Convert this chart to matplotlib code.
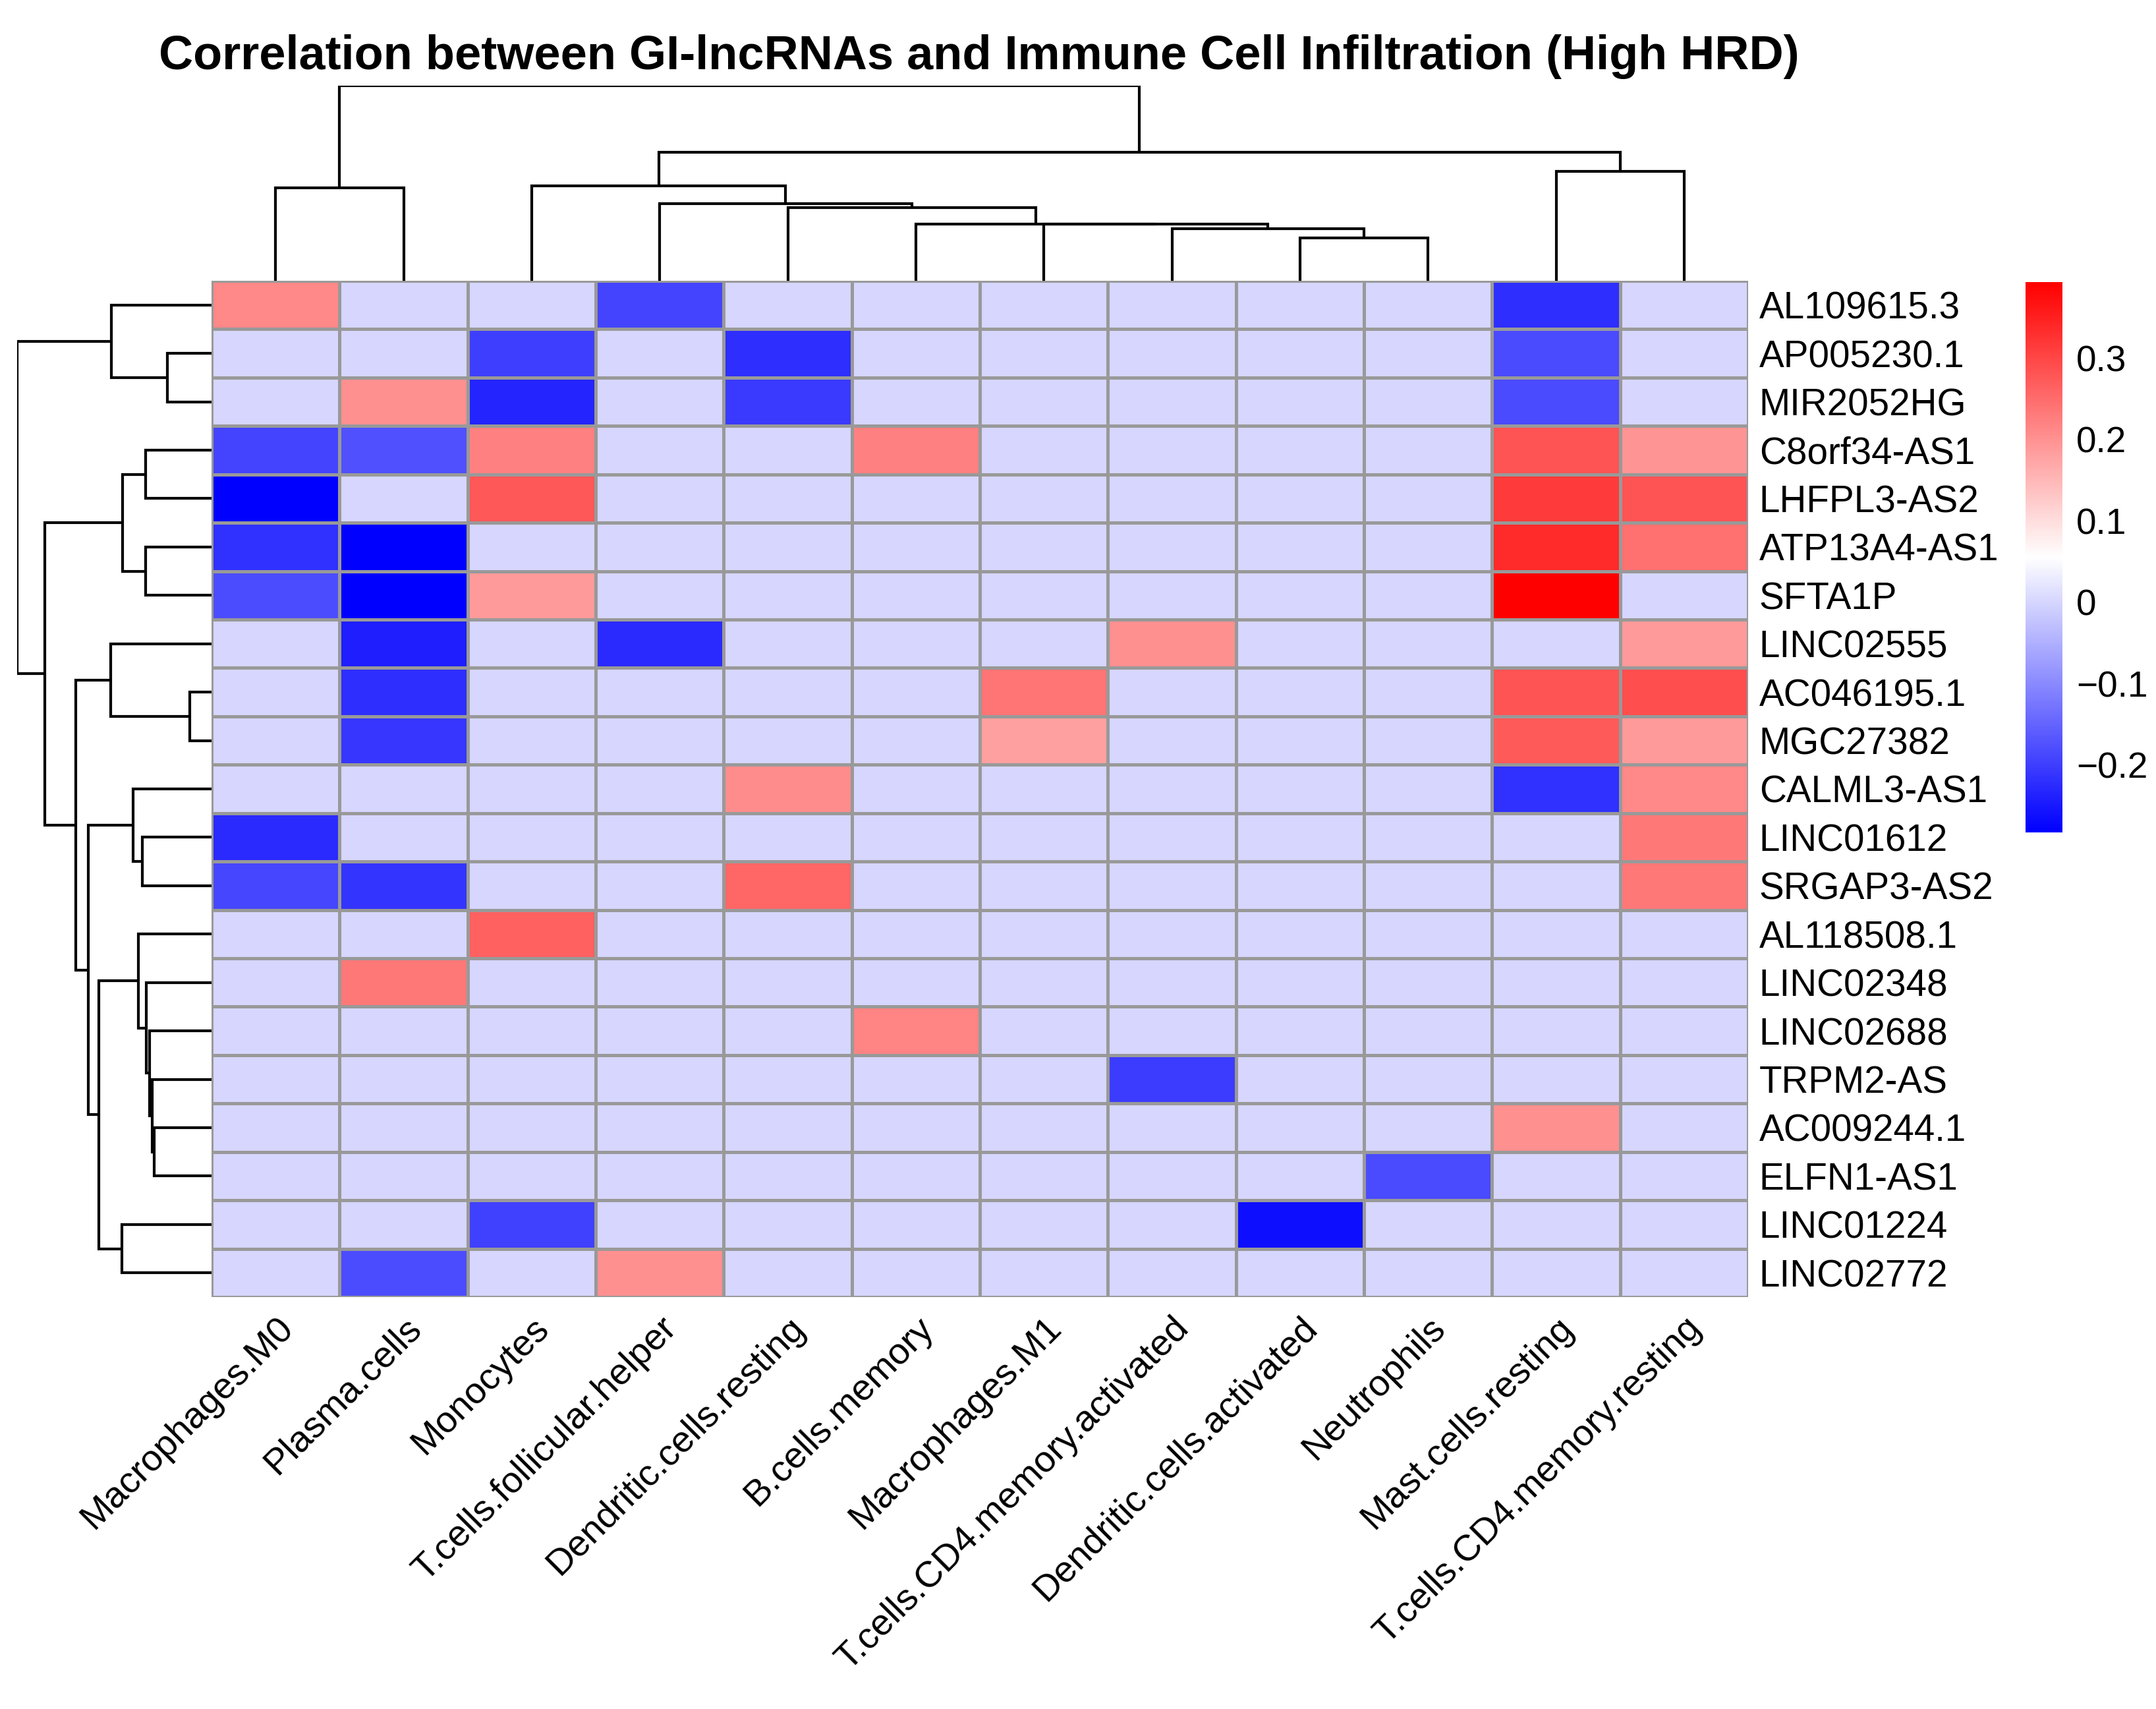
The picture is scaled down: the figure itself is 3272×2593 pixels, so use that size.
import numpy as np
import matplotlib
matplotlib.use("Agg")
import matplotlib.pyplot as plt
from matplotlib.colors import LinearSegmentedColormap, Normalize
from matplotlib.cm import ScalarMappable

plt.rcParams['font.family'] = ['Liberation Sans', 'DejaVu Sans']

# ---------------- data ----------------
cells = ["Macrophages.M0", "Plasma.cells", "Monocytes", "T.cells.follicular.helper",
         "Dendritic.cells.resting", "B.cells.memory", "Macrophages.M1",
         "T.cells.CD4.memory.activated", "Dendritic.cells.activated", "Neutrophils",
         "Mast.cells.resting", "T.cells.CD4.memory.resting"]

genes = ["AL109615.3", "AP005230.1", "MIR2052HG", "C8orf34-AS1", "LHFPL3-AS2",
         "ATP13A4-AS1", "SFTA1P", "LINC02555", "AC046195.1", "MGC27382",
         "CALML3-AS1", "LINC01612", "SRGAP3-AS2", "AL118508.1", "LINC02348",
         "LINC02688", "TRPM2-AS", "AC009244.1", "ELFN1-AS1", "LINC01224", "LINC02772"]

corr = [
    [0.213, 0, 0, -0.193, 0, 0, 0, 0, 0, 0, -0.222, 0],
    [0, 0, -0.200, 0, -0.222, 0, 0, 0, 0, 0, -0.185, 0],
    [0, 0.202, -0.235, 0, -0.205, 0, 0, 0, 0, 0, -0.185, 0],
    [-0.193, -0.177, 0.224, 0, 0, 0.224, 0, 0, 0, 0, 0.281, 0.197],
    [-0.283, 0, 0.275, 0, 0, 0, 0, 0, 0, 0, 0.316, 0.281],
    [-0.219, -0.283, 0, 0, 0, 0, 0, 0, 0, 0, 0.336, 0.245],
    [-0.182, -0.283, 0.190, 0, 0, 0, 0, 0, 0, 0, 0.3935, 0],
    [0, -0.243, 0, -0.225, 0, 0, 0, 0.202, 0, 0, 0, 0.190],
    [0, -0.222, 0, 0, 0, 0, 0.238, 0, 0, 0, 0.281, 0.288],
    [0, -0.211, 0, 0, 0, 0, 0.181, 0, 0, 0, 0.272, 0.190],
    [0, 0, 0, 0, 0.208, 0, 0, 0, 0, 0, -0.219, 0.213],
    [-0.225, 0, 0, 0, 0, 0, 0, 0, 0, 0, 0, 0.233],
    [-0.188, -0.214, 0, 0, 0.258, 0, 0, 0, 0, 0, 0, 0.233],
    [0, 0, 0.266, 0, 0, 0, 0, 0, 0, 0, 0, 0],
    [0, 0.233, 0, 0, 0, 0, 0, 0, 0, 0, 0, 0],
    [0, 0, 0, 0, 0, 0.217, 0, 0, 0, 0, 0, 0],
    [0, 0, 0, 0, 0, 0, 0, -0.203, 0, 0, 0, 0],
    [0, 0, 0, 0, 0, 0, 0, 0, 0, 0, 0.202, 0],
    [0, 0, 0, 0, 0, 0, 0, 0, 0, -0.185, 0, 0],
    [0, 0, -0.198, 0, 0, 0, 0, 0, -0.262, 0, 0, 0],
    [0, -0.182, 0, 0.202, 0, 0, 0, 0, 0, 0, 0, 0],
]

# dendrogram merges: (child_a, child_b, height); ids >= n refer to earlier merges
col_merges = [
    (8, 9, 31.0), (7, 12, 38.0), (6, 13, 41.0), (5, 14, 41.4), (4, 15, 53.0),
    (3, 16, 56.0), (2, 17, 69.0), (0, 1, 67.4), (10, 11, 79.4), (18, 20, 93.3),
    (19, 21, 141.7),
]
row_merges = [
    (1, 2, 200), (0, 21, 455), (3, 4, 300), (5, 6, 300), (23, 24, 403),
    (8, 9, 98), (7, 26, 458), (11, 12, 315), (10, 28, 357), (17, 18, 260),
    (16, 30, 270), (15, 31, 280), (14, 32, 297), (13, 33, 333), (19, 20, 407),
    (34, 35, 510), (29, 36, 560), (27, 37, 617), (25, 38, 755), (22, 39, 882),
]

cbar_ticks = [-0.2, -0.1, 0, 0.1, 0.2, 0.3]
cbar_labels = ["\u22120.2", "\u22120.1", "0", "0.1", "0.2", "0.3"]

title = "Correlation between GI-lncRNAs and Immune Cell Infiltration (High HRD)"

# ---------------- figure ----------------
W, H = 3272, 2593
DPI = 300
fig = plt.figure(figsize=(W / DPI, H / DPI), dpi=DPI)


def fx(px):
    return px / W


def fy(py):
    return 1 - py / H


hm_l, hm_r, hm_t, hm_b = 321, 2653, 426, 1968
ax = fig.add_axes([fx(hm_l), fy(hm_b), fx(hm_r - hm_l), (hm_b - hm_t) / H])

data = np.array(corr, dtype=float)
cmap = LinearSegmentedColormap.from_list("bwr_ph", ["blue", "white", "red"], N=256)
norm = Normalize(vmin=data.min(), vmax=data.max())
ax.pcolormesh(np.arange(len(cells) + 1), np.arange(len(genes) + 1), data,
              cmap=cmap, norm=norm, edgecolors="#999999", linewidth=0.8)
ax.set_xlim(0, len(cells))
ax.set_ylim(len(genes), 0)
for s in ax.spines.values():
    s.set_visible(False)
ax.set_yticks(np.arange(len(genes)) + 0.5)
ax.set_yticklabels(genes, fontsize=13.6)
ax.yaxis.tick_right()
ax.set_xticks(np.arange(len(cells)) + 0.5)
ax.set_xticklabels(cells, fontsize=13.4, rotation=45, ha="right", va="top",
                   rotation_mode="anchor")
ax.tick_params(axis="both", length=0)
ax.tick_params(axis="y", pad=4)
ax.tick_params(axis="x", pad=5)


def dendro_segments(merges, n):
    pos = {i: i + 0.5 for i in range(n)}
    hgt = {i: 0.0 for i in range(n)}
    segs = []
    for k, (a, b, h) in enumerate(merges):
        pa, pb = pos[a], pos[b]
        segs.append(([pa, pa, pb, pb], [hgt[a], h, h, hgt[b]]))
        pos[n + k] = (pa + pb) / 2.0
        hgt[n + k] = h
    return segs, max(h for _, _, h in merges)


# column dendrogram
col_top = 130
axc = fig.add_axes([fx(hm_l), fy(hm_t), fx(hm_r - hm_l), (hm_t - col_top) / H])
segs, cmax = dendro_segments(col_merges, len(cells))
for xs, ys in segs:
    axc.plot(xs, ys, color="black", lw=1.0, solid_capstyle="butt",
             solid_joinstyle="miter")
axc.set_xlim(0, len(cells))
axc.set_ylim(0, cmax)
axc.axis("off")

# row dendrogram
row_left = 26
axr = fig.add_axes([fx(row_left), fy(hm_b), fx(hm_l - row_left), (hm_b - hm_t) / H])
segs, rmax = dendro_segments(row_merges, len(genes))
for ys, xs in segs:
    axr.plot(xs, ys, color="black", lw=1.0, solid_capstyle="butt",
             solid_joinstyle="miter")
axr.set_xlim(rmax, 0)
axr.set_ylim(len(genes), 0)
axr.axis("off")

# colorbar
cb_l, cb_r, cb_t, cb_b = 3074, 3130, 428, 1263
cax = fig.add_axes([fx(cb_l), fy(cb_b), fx(cb_r - cb_l), (cb_b - cb_t) / H])
cb = fig.colorbar(ScalarMappable(norm=norm, cmap=cmap), cax=cax, ticks=cbar_ticks)
cb.outline.set_visible(False)
cb.set_ticklabels(cbar_labels)
cax.tick_params(length=0, pad=5, labelsize=13.2)

fig.text(fx(1486), fy(86), title, ha="center", va="center",
         fontsize=17.3, fontweight="bold")

fig.savefig("out.png", dpi=DPI)
